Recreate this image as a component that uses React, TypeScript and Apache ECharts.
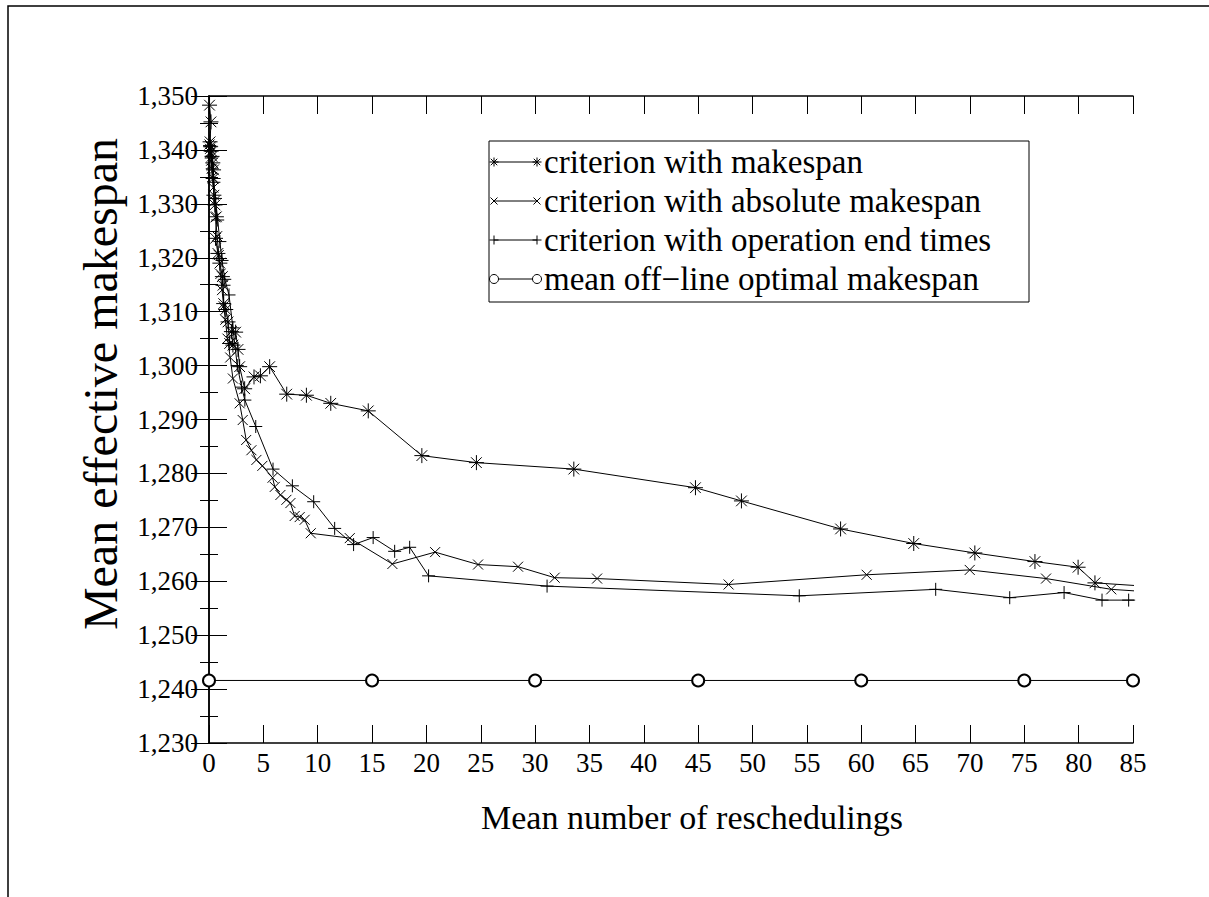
import React, { useEffect, useRef } from "react";
import * as echarts from "echarts";

// ---- data ----
const makespanX = [0.05, 0.18, 0.1, 0.15, 0.22, 0.28, 0.35, 0.42, 0.38, 0.45, 0.55, 0.68, 0.6, 0.82, 1.0, 1.23, 1.29, 1.35, 1.54, 1.75, 1.9, 2.2, 2.06, 2.45, 2.67, 2.82, 3.28, 4.14, 4.73, 5.58, 7.15, 8.96, 11.2, 14.65, 19.58, 24.6, 33.56, 44.75, 48.98, 58.1, 64.83, 70.45, 75.98, 79.95, 81.5, 86];
const makespanY = [1348.3, 1345.2, 1341.5, 1340.6, 1339.8, 1338.8, 1337.6, 1336.3, 1334.7, 1331.6, 1329.8, 1327.6, 1323.6, 1320.8, 1319.0, 1316.5, 1314.9, 1311.5, 1310.4, 1308.1, 1304.1, 1303.8, 1306.3, 1306.2, 1303.0, 1299.8, 1295.7, 1297.9, 1298.1, 1299.8, 1294.7, 1294.5, 1293.0, 1291.6, 1283.3, 1282.0, 1280.8, 1277.35, 1274.9, 1269.7, 1267.0, 1265.25, 1263.65, 1262.6, 1259.7, 1259.1];

const absoluteX = [0.05, 0.1, 0.15, 0.2, 0.25, 0.3, 0.4, 0.5, 0.6, 0.75, 0.9, 1.05, 1.2, 1.35, 1.5, 1.7, 1.95, 2.2, 2.82, 3.1, 3.42, 3.9, 4.36, 4.91, 5.85, 6.05, 6.57, 7.12, 7.49, 7.88, 8.34, 8.8, 9.36, 12.95, 16.87, 20.8, 24.75, 28.43, 31.8, 35.7, 47.8, 60.5, 69.98, 77.0, 83.0, 86];
const absoluteY = [1341.0, 1340.2, 1339.5, 1338.0, 1336.5, 1335.0, 1333.0, 1330.5, 1327.5, 1324.0, 1320.5, 1317.0, 1314.0, 1311.0, 1308.5, 1305.0, 1301.5, 1297.6, 1293.0, 1289.9, 1286.2, 1284.3, 1282.5, 1281.4, 1279.2, 1277.5, 1276.0, 1275.1, 1274.5, 1272.1, 1271.9, 1271.4, 1268.9, 1268.0, 1263.2, 1265.4, 1263.1, 1262.7, 1260.66, 1260.5, 1259.4, 1261.2, 1262.1, 1260.5, 1258.5, 1258.1];

const endTimesX = [0.05, 0.1, 0.2, 0.3, 0.45, 0.6, 0.8, 1.0, 1.2, 1.45, 1.84, 2.2, 2.6, 3.0, 3.3, 4.3, 5.89, 7.67, 9.63, 11.56, 13.3, 15.1, 17.08, 18.46, 20.2, 31.1, 54.3, 66.85, 73.66, 78.66, 82.15, 84.6, 86];
const endTimesY = [1340.8, 1339.8, 1338.5, 1336.5, 1334.0, 1331.0, 1327.0, 1323.0, 1319.5, 1316.0, 1313.1, 1307.0, 1300.0, 1296.0, 1293.6, 1288.7, 1280.8, 1277.7, 1274.75, 1269.8, 1266.8, 1268.1, 1265.55, 1266.3, 1261.0, 1259.1, 1257.3, 1258.5, 1256.95, 1257.9, 1256.5, 1256.5, 1256.5];

const offlineX = [0, 15, 30, 45, 60, 75, 85];
const offlineY = [1241.6, 1241.6, 1241.6, 1241.6, 1241.6, 1241.6, 1241.6];

const seriesNames = [
  "criterion with makespan",
  "criterion with absolute makespan",
  "criterion with operation end times",
  "mean off\u2212line optimal makespan",
];
const xAxisTitle = "Mean number of reschedulings";
const yAxisTitle = "Mean effective makespan";

const X_MIN = 0, X_MAX = 85, X_STEP = 5;
const Y_MIN = 1230, Y_MAX = 1350, Y_STEP = 10;

const FONT = "'Liberation Serif', 'Times New Roman', serif";

const STAR = "path://M0,8L16,8M8,0L8,16M2.3,2.3L13.7,13.7M2.3,13.7L13.7,2.3";
const CROSS = "path://M0,0L10,10M0,10L10,0";
const PLUS = "path://M5,0L5,10M0,5L10,5";

const pairs = (xs: number[], ys: number[]) => xs.map((x, i) => [x, ys[i]]);
const fmt = (v: number) => String(v).replace(/\B(?=(\d{3})+(?!\d))/g, ",");

function ln(x1: number, y1: number, x2: number, y2: number) {
  return { type: "line", silent: true, shape: { x1, y1, x2, y2 }, style: { stroke: "#000", lineWidth: 1 } };
}
function legendMarker(kind: string, cx: number, cy: number): any[] {
  const r = 4.5;
  const d = r * 0.72;
  if (kind === "star")
    return [ln(cx - r, cy, cx + r, cy), ln(cx, cy - r, cx, cy + r), ln(cx - d, cy - d, cx + d, cy + d), ln(cx - d, cy + d, cx + d, cy - d)];
  if (kind === "cross") return [ln(cx - 3.5, cy - 3.5, cx + 3.5, cy + 3.5), ln(cx - 3.5, cy + 3.5, cx + 3.5, cy - 3.5)];
  if (kind === "plus") return [ln(cx - r, cy, cx + r, cy), ln(cx, cy - r, cx, cy + r)];
  return [{ type: "circle", silent: true, shape: { cx, cy, r: 4.5 }, style: { stroke: "#000", fill: "#fff", lineWidth: 1 } }];
}

export default function App() {
  const ref = useRef<HTMLDivElement>(null);
  useEffect(() => {
    const chart = echarts.init(ref.current!, null, { renderer: "svg" });

    const legendKinds = ["star", "cross", "plus", "circle"];
    const legendRowsY = [162, 201, 240, 279];
    const legendEls: any[] = [
      { type: "rect", silent: true, shape: { x: 489, y: 141, width: 540, height: 161 }, style: { stroke: "#000", fill: "#fff", lineWidth: 1 } },
    ];
    legendKinds.forEach((k, i) => {
      const y = legendRowsY[i];
      legendEls.push(ln(494, y, 537, y));
      legendEls.push(...legendMarker(k, 494, y));
      legendEls.push(...legendMarker(k, 537, y));
      legendEls.push({
        type: "text",
        silent: true,
        x: 544,
        y,
        style: { text: seriesNames[i], fontSize: 33, fontFamily: FONT, fill: "#000", align: "left", verticalAlign: "middle" },
      });
    });

    const axisBase = {
      type: "value",
      axisLine: { show: true, lineStyle: { color: "#000", width: 1.5 } },
      axisTick: { show: true, inside: true, length: 18, lineStyle: { color: "#000", width: 1 } },
      splitLine: { show: false },
    };

    const lineSeries = (name: string, data: number[][], symbol: string, size: number, z: number) => ({
      type: "line",
      name,
      data,
      symbol,
      symbolSize: size,
      showSymbol: true,
      showAllSymbol: true,
      clip: true,
      z,
      lineStyle: { color: "#000", width: 1 },
      itemStyle: { color: "#000", borderColor: "#000", borderWidth: 1 },
      emphasis: { disabled: true },
    });

    chart.setOption({
      animation: false,
      backgroundColor: "#fff",
      grid: { left: 209, right: 76, top: 96, bottom: 154, containLabel: false },
      xAxis: [
        {
          ...axisBase,
          position: "bottom",
          min: X_MIN,
          max: X_MAX,
          interval: X_STEP,
          axisLabel: { show: true, margin: 6, fontSize: 27, fontFamily: FONT, color: "#000" },
        },
        {
          ...axisBase,
          position: "top",
          min: X_MIN,
          max: X_MAX,
          interval: X_STEP,
          axisLabel: { show: false },
        },
      ],
      yAxis: [
        {
          ...axisBase,
          position: "left",
          min: Y_MIN,
          max: Y_MAX,
          interval: Y_STEP,
          minorTick: { show: true, splitNumber: 2, length: 9, lineStyle: { color: "#000", width: 1 } },
          axisLabel: { show: true, margin: 11, fontSize: 27, fontFamily: FONT, color: "#000", formatter: (v: number) => fmt(v) },
        },
        {
          ...axisBase,
          position: "right",
          min: Y_MIN,
          max: Y_MAX,
          interval: Y_STEP,
          minorTick: { show: true, splitNumber: 2, length: 9, lineStyle: { color: "#000", width: 1 } },
          axisLabel: { show: false },
        },
      ],
      series: [
        lineSeries(seriesNames[0], pairs(makespanX, makespanY), STAR, 15, 4),
        lineSeries(seriesNames[1], pairs(absoluteX, absoluteY), CROSS, 10, 3),
        lineSeries(seriesNames[2], pairs(endTimesX, endTimesY), PLUS, 13, 2),
        lineSeries(seriesNames[3], pairs(offlineX, offlineY), "emptyCircle", 12, 1),
      ],
      graphic: [
        {
          type: "rect",
          silent: true,
          shape: { x: 8, y: 6, width: 1400, height: 1200 },
          style: { stroke: "#000", fill: "none", lineWidth: 1.5 },
          z: -10,
        },
        {
          type: "text",
          silent: true,
          x: 692,
          y: 817,
          style: { text: xAxisTitle, fontSize: 34, fontFamily: FONT, fill: "#000", align: "center", verticalAlign: "middle" },
        },
        {
          type: "text",
          silent: true,
          x: 100,
          y: 384,
          rotation: Math.PI / 2,
          style: { text: yAxisTitle, fontSize: 48, fontFamily: FONT, fill: "#000", align: "center", verticalAlign: "middle" },
        },
        ...legendEls,
      ],
    });
    return () => chart.dispose();
  }, []);
  return (
    <div
      ref={ref}
      style={{ position: "fixed", left: 0, top: 0, width: 1209, height: 897, background: "#fff" }}
    />
  );
}
